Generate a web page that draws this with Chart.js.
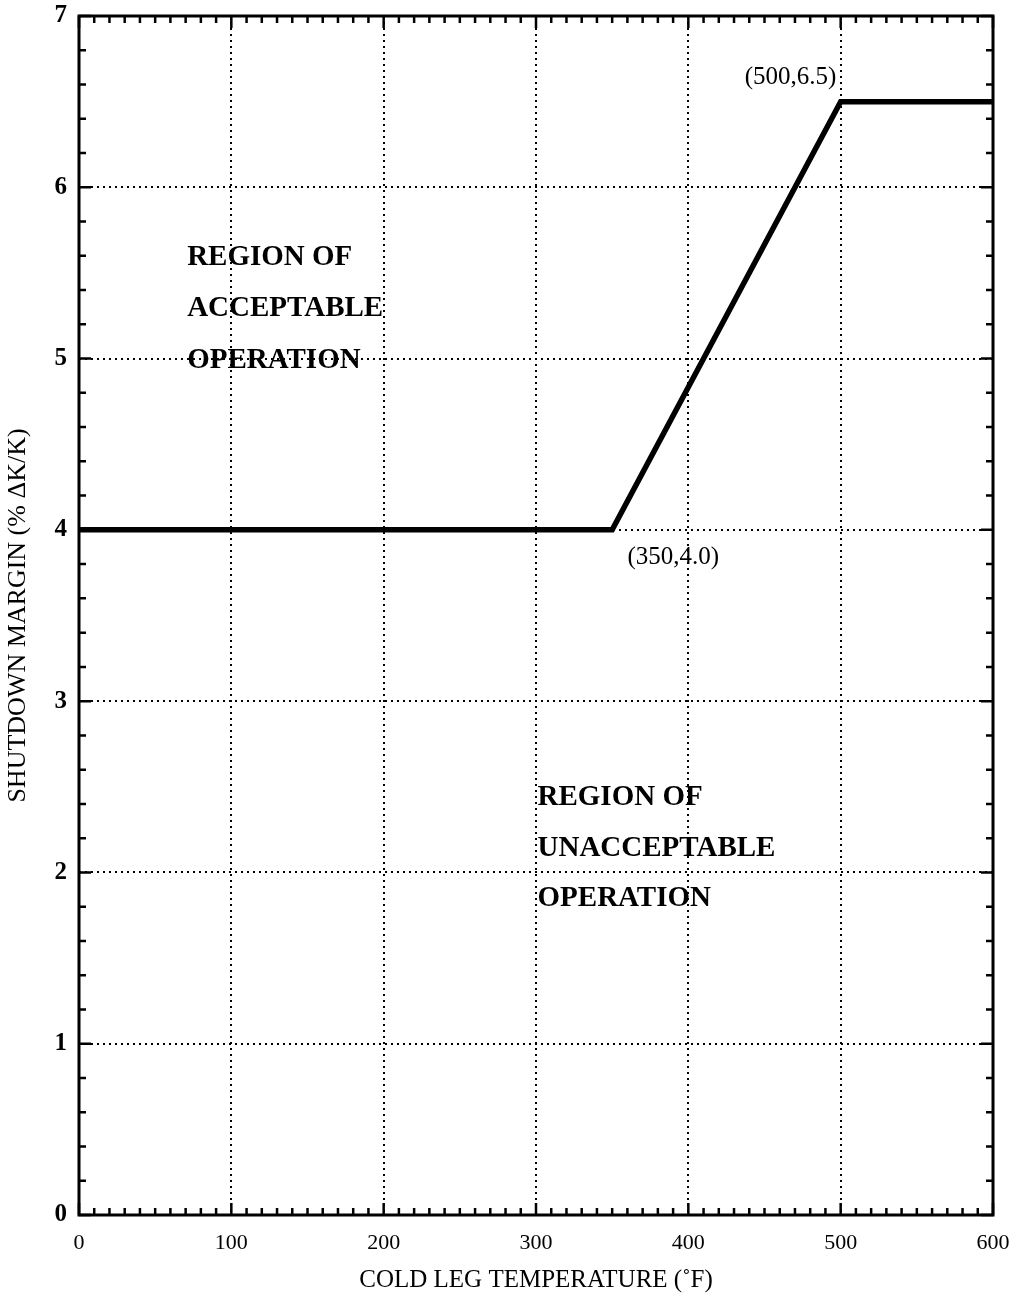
<!DOCTYPE html>
<html>
<head>
<meta charset="utf-8">
<script src="https://cdn.jsdelivr.net/npm/chart.js@4"></script>
<style>
  html, body { margin: 0; padding: 0; background: #fff; }
  #wrap { width: 1019px; height: 1296px; position: relative; }
</style>
</head>
<body>
<div id="wrap"><canvas id="c"></canvas></div>
<script>
  // limit curve points
  const temps = [0, 350, 500, 600];
  const margins = [4.0, 4.0, 6.5, 6.5];
  const xTicks = [0, 100, 200, 300, 400, 500, 600];
  const yTicks = [0, 1, 2, 3, 4, 5, 6, 7];
  const xMinorStep = 10, yMinorStep = 0.2;

  const notes = [
    { text: "REGION OF", x: 71, y: 5.59, bold: true },
    { text: "ACCEPTABLE", x: 71, y: 5.29, bold: true },
    { text: "OPERATION", x: 71, y: 4.99, bold: true },
    { text: "REGION OF", x: 301, y: 2.44, bold: true },
    { text: "UNACCEPTABLE", x: 301, y: 2.14, bold: true },
    { text: "OPERATION", x: 301, y: 1.85, bold: true },
    { text: "(500,6.5)", x: 437, y: 6.64, bold: false },
    { text: "(350,4.0)", x: 360, y: 3.84, bold: false },
  ];

  const SERIF = '"Liberation Serif", "DejaVu Serif", serif';

  const framePlugin = {
    id: "frame",
    afterDraw(chart) {
      const { ctx, chartArea: a, scales: { x, y } } = chart;
      ctx.save();
      ctx.strokeStyle = "#000";
      // minor + major ticks inward on all sides
      ctx.lineWidth = 2.5;
      ctx.beginPath();
      for (let v = x.min; v <= x.max + 1e-9; v += xMinorStep) {
        const px = x.getPixelForValue(v);
        const major = xTicks.includes(Math.round(v));
        const len = major ? 12 : 7;
        ctx.moveTo(px, a.bottom); ctx.lineTo(px, a.bottom - len);
        ctx.moveTo(px, a.top); ctx.lineTo(px, a.top + len);
      }
      for (let v = y.min; v <= y.max + 1e-9; v += yMinorStep) {
        const py = y.getPixelForValue(v);
        const major = Math.abs(v - Math.round(v)) < 1e-6;
        const len = major ? 12 : 7;
        ctx.moveTo(a.left, py); ctx.lineTo(a.left + len, py);
        ctx.moveTo(a.right, py); ctx.lineTo(a.right - len, py);
      }
      ctx.stroke();
      ctx.lineWidth = 3;
      ctx.strokeRect(a.left, a.top, a.right - a.left, a.bottom - a.top);
      // annotations
      ctx.fillStyle = "#000";
      ctx.textBaseline = "middle";
      ctx.textAlign = "left";
      notes.forEach(n => {
        ctx.font = (n.bold ? "bold 29px " : "25px ") + SERIF;
        ctx.fillText(n.text, x.getPixelForValue(n.x), y.getPixelForValue(n.y));
      });
      ctx.restore();
    }
  };

  new Chart(document.getElementById("c"), {
    type: "scatter",
    data: {
      datasets: [{
        data: temps.map((t, i) => ({ x: t, y: margins[i] })),
        showLine: true,
        borderColor: "#000",
        borderWidth: 5.5,
        pointRadius: 0,
        tension: 0,
        borderJoinStyle: "miter",
        clip: false,
      }]
    },
    options: {
      responsive: true,
      maintainAspectRatio: false,
      animation: false,
      layout: { padding: { top: 16, right: 26, left: 0, bottom: 0 } },
      plugins: { legend: { display: false }, tooltip: { enabled: false } },
      scales: {
        x: {
          type: "linear", min: 0, max: 600,
          afterFit: s => { s.height = 81; s.paddingLeft = 0; s.paddingRight = 0; },
          afterBuildTicks: s => { s.ticks = xTicks.map(v => ({ value: v })); },
          ticks: { color: "#000", padding: 15, font: { family: SERIF, size: 22 }, maxRotation: 0 },
          grid: { color: "#000", lineWidth: 2, drawTicks: false },
          border: { display: false, dash: [2, 4] },
          title: { display: true, text: "COLD LEG TEMPERATURE (˚F)", color: "#000", font: { family: SERIF, size: 25 }, padding: { top: 2, bottom: 1 } },
        },
        y: {
          type: "linear", min: 0, max: 7,
          afterFit: s => { s.width = 79; s.paddingTop = 0; s.paddingBottom = 0; },
          afterBuildTicks: s => { s.ticks = yTicks.map(v => ({ value: v })); },
          ticks: { color: "#000", padding: 12, font: { family: SERIF, size: 25, weight: "bold" } },
          grid: { color: "#000", lineWidth: 2, drawTicks: false },
          border: { display: false, dash: [2, 4] },
          title: { display: true, text: "SHUTDOWN MARGIN (% ΔK/K)", color: "#000", font: { family: SERIF, size: 26 }, padding: { top: 3, bottom: 4 } },
        }
      }
    },
    plugins: [framePlugin]
  });
</script>
</body>
</html>
